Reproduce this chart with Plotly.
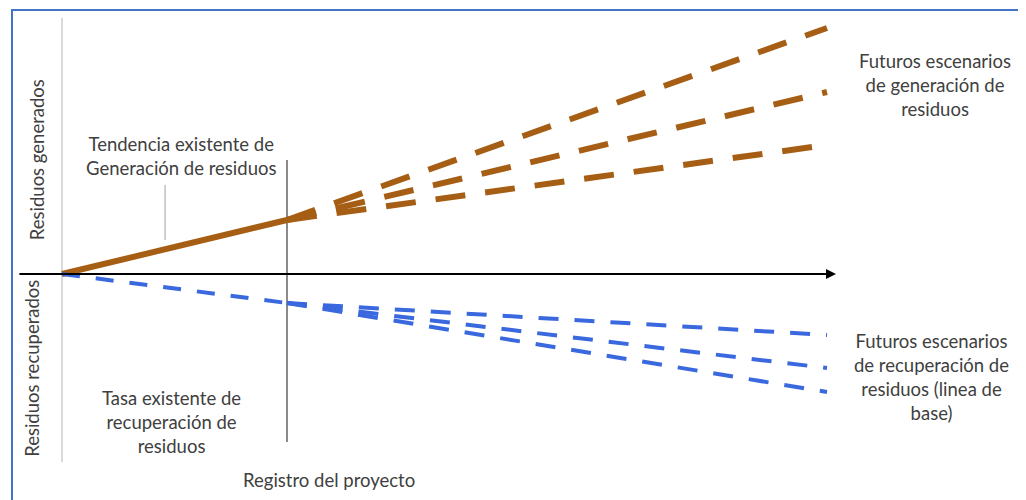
import plotly.graph_objects as go

# x: time (registro del proyecto at 5), y: waste (+ generated, - recovered)
hist_x = [0, 5]
hist_gen = [0, 5.4]
hist_rec = [0, -2.9]

fut_x = [5, 17]
fut_gen = {"alto": [5.4, 24.6], "medio": [5.4, 18.2], "bajo": [5.4, 12.9]}
fut_rec = {"alto": [-2.9, -6.1], "medio": [-2.9, -9.4], "bajo": [-2.9, -11.8]}

BROWN = "#A65E14"
BLUE = "#3A68DE"
TXT = "#404040"
FONT = "Lato"

fig = go.Figure()

fig.add_trace(go.Scatter(x=hist_x, y=hist_gen, mode="lines",
                         line=dict(color=BROWN, width=6)))
fig.add_trace(go.Scatter(x=hist_x, y=hist_rec, mode="lines",
                         line=dict(color=BLUE, width=4, dash="18px,16px")))
for k, v in fut_gen.items():
    fig.add_trace(go.Scatter(x=fut_x, y=v, mode="lines",
                             line=dict(color=BROWN, width=6, dash="30px,20px")))
for k, v in fut_rec.items():
    fig.add_trace(go.Scatter(x=fut_x, y=v, mode="lines",
                             line=dict(color=BLUE, width=4, dash="20px,16px")))

# axes drawn by hand
fig.add_shape(type="line", x0=0, x1=0, y0=-18.8, y1=25.6,
              line=dict(color="#d9d9d9", width=2), layer="below")
fig.add_shape(type="line", x0=5, x1=5, y0=-16.8, y1=11.4,
              line=dict(color="#8a8a8a", width=2), layer="below")
fig.add_shape(type="line", x0=2.29, x1=2.29, y0=3.4, y1=8.9,
              line=dict(color="#a0a0a0", width=1))
fig.add_annotation(x=17.2, y=0, ax=-0.98, ay=0, xref="x", yref="y",
                   axref="x", ayref="y", text="", showarrow=True,
                   arrowhead=2, arrowsize=1, arrowwidth=2, arrowcolor="black")

# frame (page body adds an 8px offset)
fig.add_shape(type="rect", xref="paper", yref="paper",
              x0=4 / 1026, x1=1013 / 1026, y0=-0.05, y1=1 - 2 / 500,
              line=dict(color="#4472C4", width=2))

f = dict(family=FONT, size=18.5, color=TXT)
fig.add_annotation(x=-0.55, y=11.4, text="Residuos generados", textangle=-90,
                   showarrow=False, font=f)
fig.add_annotation(x=-0.67, y=-9.4, text="Residuos recuperados", textangle=-90,
                   showarrow=False, font=f)
fig.add_annotation(x=2.64, y=11.8, text="Tendencia existente de<br>Generación de residuos",
                   showarrow=False, font=f, align="center")
fig.add_annotation(x=2.44, y=-14.8, text="Tasa existente de<br>recuperación de<br>residuos",
                   showarrow=False, font=f, align="center")
fig.add_annotation(x=5.93, y=-20.6, text="Registro del proyecto",
                   showarrow=False, font=f)
fig.add_annotation(x=19.4, y=18.9, text="Futuros escenarios<br>de generación de<br>residuos",
                   showarrow=False, font=f, align="center")
fig.add_annotation(x=19.33, y=-10.3,
                   text="Futuros escenarios<br>de recuperación de<br>residuos (linea de<br>base)",
                   showarrow=False, font=f, align="center")

fig.update_xaxes(range=[-54 / 45, 972 / 45], visible=False)
fig.update_yaxes(range=[-23.4, 26.6], visible=False)
fig.update_layout(width=1026, height=500, margin=dict(l=0, r=0, t=0, b=0),
                  plot_bgcolor="white", paper_bgcolor="white", showlegend=False)

fig.write_html("out.html")
